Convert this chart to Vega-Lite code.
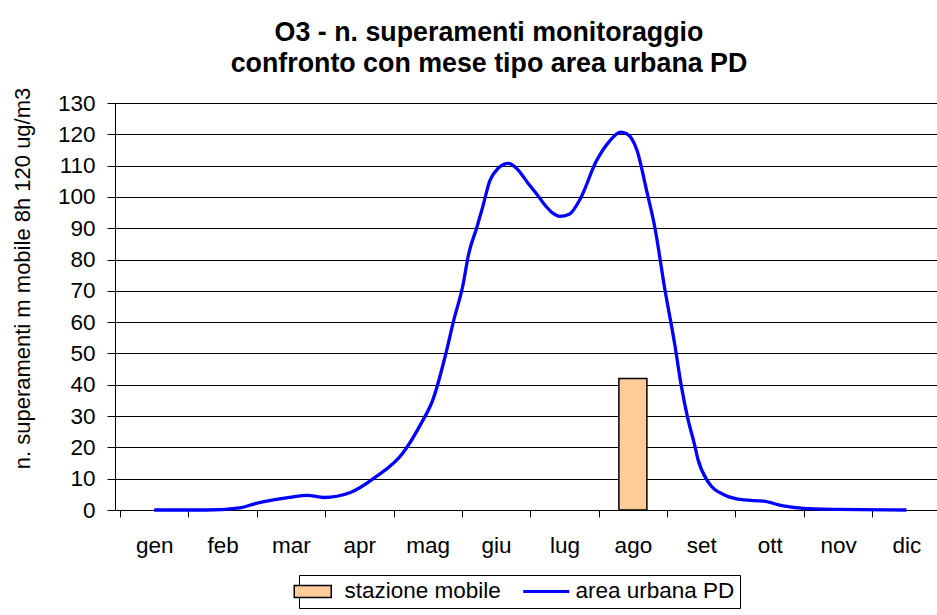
{
  "$schema": "https://vega.github.io/schema/vega-lite/v6.json",
  "autosize": {"type": "none"},
  "padding": {"left": 115, "top": 103, "right": 0, "bottom": 105},
  "width": 822,
  "height": 407,
  "background": "white",
  "config": {
    "font": "Liberation Sans",
    "view": {"stroke": null}
  },
  "title": {
    "text": ["O3 - n. superamenti monitoraggio", "confronto con mese tipo area urbana PD"],
    "font": "Liberation Sans",
    "fontSize": 26.8,
    "fontWeight": "bold",
    "color": "black",
    "lineHeight": 31,
    "anchor": "middle",
    "dx": -37,
    "offset": 9
  },
  "datasets": {
    "mobile": [
      {"mese": 8, "valore": 42, "serie": "stazione mobile"}
    ],
    "urbana": [
      {"mese": 1.00, "valore": 0, "serie": "area urbana PD"},
      {"mese": 1.48, "valore": 0, "serie": "area urbana PD"},
      {"mese": 1.75, "valore": 0, "serie": "area urbana PD"},
      {"mese": 2.25, "valore": 0.7, "serie": "area urbana PD"},
      {"mese": 2.49, "valore": 2.1, "serie": "area urbana PD"},
      {"mese": 2.98, "valore": 4.0, "serie": "area urbana PD"},
      {"mese": 3.24, "valore": 4.7, "serie": "area urbana PD"},
      {"mese": 3.48, "valore": 4.0, "serie": "area urbana PD"},
      {"mese": 3.87, "valore": 5.6, "serie": "area urbana PD"},
      {"mese": 4.23, "valore": 10.4, "serie": "area urbana PD"},
      {"mese": 4.64, "valore": 18.3, "serie": "area urbana PD"},
      {"mese": 4.90, "valore": 27.5, "serie": "area urbana PD"},
      {"mese": 5.08, "valore": 35.5, "serie": "area urbana PD"},
      {"mese": 5.26, "valore": 49.5, "serie": "area urbana PD"},
      {"mese": 5.38, "valore": 60.6, "serie": "area urbana PD"},
      {"mese": 5.51, "valore": 71.3, "serie": "area urbana PD"},
      {"mese": 5.60, "valore": 81.9, "serie": "area urbana PD"},
      {"mese": 5.72, "valore": 90.4, "serie": "area urbana PD"},
      {"mese": 5.80, "valore": 96.5, "serie": "area urbana PD"},
      {"mese": 5.91, "valore": 105.3, "serie": "area urbana PD"},
      {"mese": 6.03, "valore": 109.1, "serie": "area urbana PD"},
      {"mese": 6.18, "valore": 110.7, "serie": "area urbana PD"},
      {"mese": 6.30, "valore": 109.1, "serie": "area urbana PD"},
      {"mese": 6.47, "valore": 104.3, "serie": "area urbana PD"},
      {"mese": 6.59, "valore": 101.0, "serie": "area urbana PD"},
      {"mese": 6.73, "valore": 97.0, "serie": "area urbana PD"},
      {"mese": 6.83, "valore": 94.8, "serie": "area urbana PD"},
      {"mese": 6.93, "valore": 93.8, "serie": "area urbana PD"},
      {"mese": 7.07, "valore": 94.5, "serie": "area urbana PD"},
      {"mese": 7.24, "valore": 99.8, "serie": "area urbana PD"},
      {"mese": 7.46, "valore": 111.2, "serie": "area urbana PD"},
      {"mese": 7.65, "valore": 117.6, "serie": "area urbana PD"},
      {"mese": 7.82, "valore": 120.7, "serie": "area urbana PD"},
      {"mese": 7.91, "valore": 120.2, "serie": "area urbana PD"},
      {"mese": 8.06, "valore": 114.9, "serie": "area urbana PD"},
      {"mese": 8.20, "valore": 102.1, "serie": "area urbana PD"},
      {"mese": 8.32, "valore": 90.4, "serie": "area urbana PD"},
      {"mese": 8.47, "valore": 70.2, "serie": "area urbana PD"},
      {"mese": 8.61, "valore": 53.2, "serie": "area urbana PD"},
      {"mese": 8.71, "valore": 39.4, "serie": "area urbana PD"},
      {"mese": 8.80, "valore": 29.5, "serie": "area urbana PD"},
      {"mese": 8.90, "valore": 21.0, "serie": "area urbana PD"},
      {"mese": 8.95, "valore": 16.3, "serie": "area urbana PD"},
      {"mese": 9.09, "valore": 9.3, "serie": "area urbana PD"},
      {"mese": 9.34, "valore": 4.8, "serie": "area urbana PD"},
      {"mese": 9.62, "valore": 3.2, "serie": "area urbana PD"},
      {"mese": 9.91, "valore": 2.8, "serie": "area urbana PD"},
      {"mese": 10.20, "valore": 1.3, "serie": "area urbana PD"},
      {"mese": 10.49, "valore": 0.5, "serie": "area urbana PD"},
      {"mese": 10.97, "valore": 0.2, "serie": "area urbana PD"},
      {"mese": 12.00, "valore": 0, "serie": "area urbana PD"}
    ]
  },
  "encoding": {
    "x": {
      "field": "mese",
      "type": "quantitative",
      "scale": {"domain": [0.5, 12.374], "nice": false, "zero": false},
      "axis": {
        "title": null,
        "grid": false,
        "values": [0.5, 1, 1.5, 2, 2.5, 3, 3.5, 4, 4.5, 5, 5.5, 6, 6.5, 7, 7.5, 8, 8.5, 9, 9.5, 10, 10.5, 11, 11.5, 12],
        "labelExpr": "datum.value % 1 === 0 ? ['gen','feb','mar','apr','mag','giu','lug','ago','set','ott','nov','dic'][datum.value - 1] : ''",
        "tickOpacity": {"condition": {"test": "datum.value % 1 === 0", "value": 0}, "value": 1},
        "tickSize": 7,
        "tickColor": "black",
        "domainColor": "black",
        "labelFontSize": 22.5,
        "labelColor": "black",
        "labelPadding": 17,
        "labelFlush": false,
        "labelOverlap": false
      }
    },
    "y": {
      "field": "valore",
      "type": "quantitative",
      "scale": {"domain": [0, 130], "nice": false},
      "axis": {
        "title": "n. superamenti m mobile 8h 120 ug/m3",
        "titleFontSize": 22,
        "titleFontWeight": "normal",
        "titleColor": "black",
        "titleX": -93,
        "titleY": 175,
        "titleAngle": -90,
        "titleAlign": "center",
        "titleBaseline": "middle",
        "values": [0, 10, 20, 30, 40, 50, 60, 70, 80, 90, 100, 110, 120, 130],
        "grid": true,
        "gridColor": "black",
        "gridOpacity": 1,
        "gridWidth": 1,
        "tickSize": 8,
        "tickColor": "black",
        "domainColor": "black",
        "labelFontSize": 22.5,
        "labelColor": "black",
        "labelPadding": 12
      }
    },
    "stroke": {
      "field": "serie",
      "type": "nominal",
      "scale": {"domain": ["stazione mobile", "area urbana PD"], "range": ["#000000", "#0000FF"]},
      "legend": {
        "title": null,
        "orient": "none",
        "legendX": 184,
        "legendY": 472,
        "direction": "horizontal",
        "strokeColor": "black",
        "fillColor": "white",
        "padding": 5,
        "labelFontSize": 22.5,
        "labelColor": "black",
        "symbolSize": 400,
        "labelOffset": 18,
        "columnPadding": 16,
        "encode": {
          "symbols": {
            "update": {
              "shape": {"signal": "datum.value === 'area urbana PD' ? 'M-2.3,0H2.3' : 'M-2.1,-0.6H1.6V0.6H-2.1Z'"},
              "strokeWidth": {"signal": "datum.value === 'area urbana PD' ? 3 : 1.5"},
              "fill": {"signal": "datum.value === 'area urbana PD' ? 'transparent' : '#FFCC99'"},
              "opacity": {"value": 1}
            }
          }
        }
      }
    }
  },
  "layer": [
    {
      "data": {"name": "mobile"},
      "mark": {"type": "bar", "orient": "vertical", "width": 28, "fill": "#FFCC99", "strokeWidth": 1.5}
    },
    {
      "data": {"name": "urbana"},
      "mark": {"type": "line", "interpolate": "monotone", "strokeWidth": 3.3}
    }
  ]
}
